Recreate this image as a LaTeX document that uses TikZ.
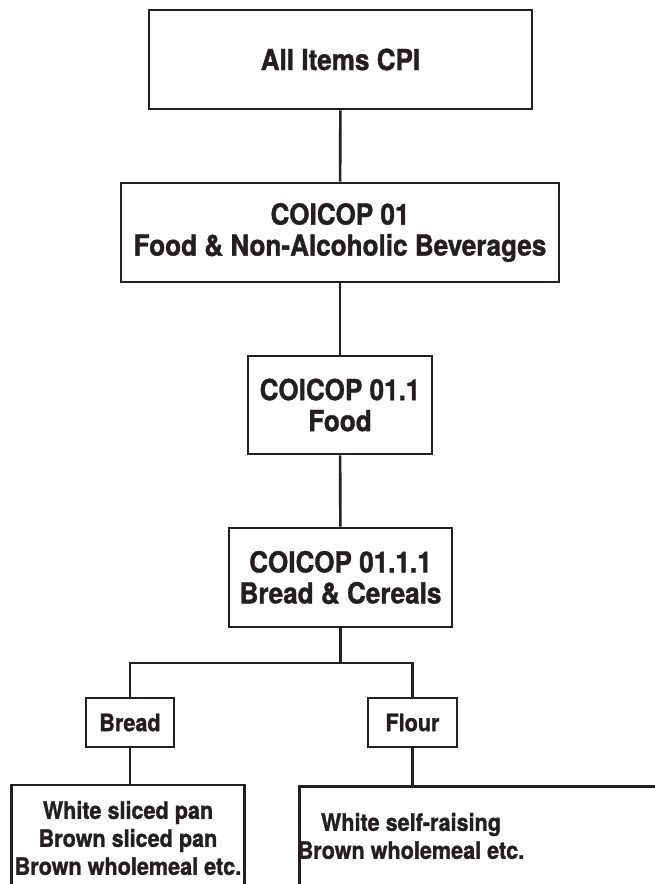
\documentclass[tikz,border=0pt]{standalone}
\usepackage{fontspec}
\setmainfont[FakeStretch=0.9]{TeX Gyre Heros}[BoldFeatures={FakeBold=1.2}]
\usepackage{tikz}
\usetikzlibrary{positioning}

\begin{document}
\begin{tikzpicture}[x=1pt,y=-1pt]
    % Colour and styles
    \definecolor{inkgrey}{RGB}{35, 31, 32} % near black
    \tikzstyle{every path}=[inkgrey, line width=2.6pt]
    \tikzstyle{catbox}=[draw=inkgrey, line width=2.6pt, align=center, text=inkgrey,
        font=\fontsize{29}{31}\selectfont\bfseries]
    \tikzstyle{itembox}=[catbox, font=\fontsize{24}{28}\selectfont\bfseries]

    \useasboundingbox (0,0) rectangle (654,884);

    % Category levels
    \node[catbox, minimum width=383pt, minimum height=99pt] (allitems) at (340.5,59.5) {All Items CPI};
    \node[catbox, minimum width=438pt, minimum height=99pt] (coicopA) at (340,232.5)
        {COICOP 01\\Food \& Non-Alcoholic Beverages};
    \node[catbox, minimum width=184pt, minimum height=98pt] (coicopB) at (340,405)
        {COICOP 01.1\\Food};
    \node[catbox, minimum width=223pt, minimum height=99pt] (coicopC) at (340.5,577.5)
        {COICOP 01.1.1\\Bread \& Cereals};

    % Item groups
    \node[itembox, minimum width=88pt, minimum height=49pt] (bread) at (130,722.5) {Bread};
    \node[itembox, minimum width=89pt, minimum height=49pt] (flour) at (412.5,722.5) {Flour};

    % Item lists (boxes run off the page)
    \node[itembox, minimum width=232pt, minimum height=106pt] (breadlist) at (128,838)
        {White sliced pan\\Brown sliced pan\\Brown wholemeal etc.};
    \node[itembox, anchor=north west, minimum width=420pt, minimum height=130pt] (flourbox) at (298,785) {};
    \node[itembox, draw=none] (flourlist) at (411,836)
        {White self-raising\\Brown wholemeal etc.};

    % Connectors
    \coordinate (split) at (340.5,663);
    \draw (allitems) -- (coicopA);
    \draw (coicopA) -- (coicopB);
    \draw (coicopB) -- (coicopC);
    \draw (coicopC) -- (split);
    \draw (bread.north) |- (split) -| (flour.north);
    \draw (bread.south) -- (bread.south |- breadlist.north);
    \draw (flour.south) -- (flour.south |- flourbox.north);

\end{tikzpicture}
\end{document}
